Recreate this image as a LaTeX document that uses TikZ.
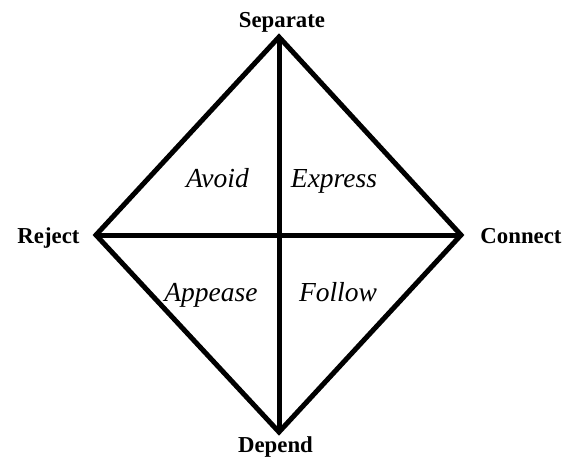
\documentclass[tikz,border=0pt]{standalone}
\usepackage{fontspec}
\setmainfont{Liberation Serif}
\begin{document}
\begin{tikzpicture}[x=1pt,y=-1pt,
  edge/.style={line width=5pt,line join=miter},
  pole/.style={font=\fontsize{22.8}{26}\selectfont\bfseries,anchor=base,inner sep=0pt},
  quad/.style={font=\fontsize{27.5}{32}\selectfont\itshape,anchor=base,inner sep=0pt}]
\useasboundingbox (0,0) rectangle (585,464);
\coordinate (T) at (279,37);
\coordinate (L) at (96,235);
\coordinate (R) at (461,235);
\coordinate (B) at (279,432);
\draw[edge] (T) -- (R) -- (B) -- (L) -- cycle;
\draw[edge] (T) -- (B);
\draw[edge] (L) -- (R);
\node[pole] (sep) at (282,27) {Separate};
\node[pole] (rej) at (48.5,243) {Reject};
\node[pole] (con) at (521,243) {Connect};
\node[pole] (dep) at (275.5,452) {Depend};
\node[quad] (avoid) at (217.5,187) {Avoid};
\node[quad] (express) at (334,187) {Express};
\node[quad] (appease) at (211,301) {Appease};
\node[quad] (follow) at (338,301) {Follow};
\end{tikzpicture}
\end{document}
